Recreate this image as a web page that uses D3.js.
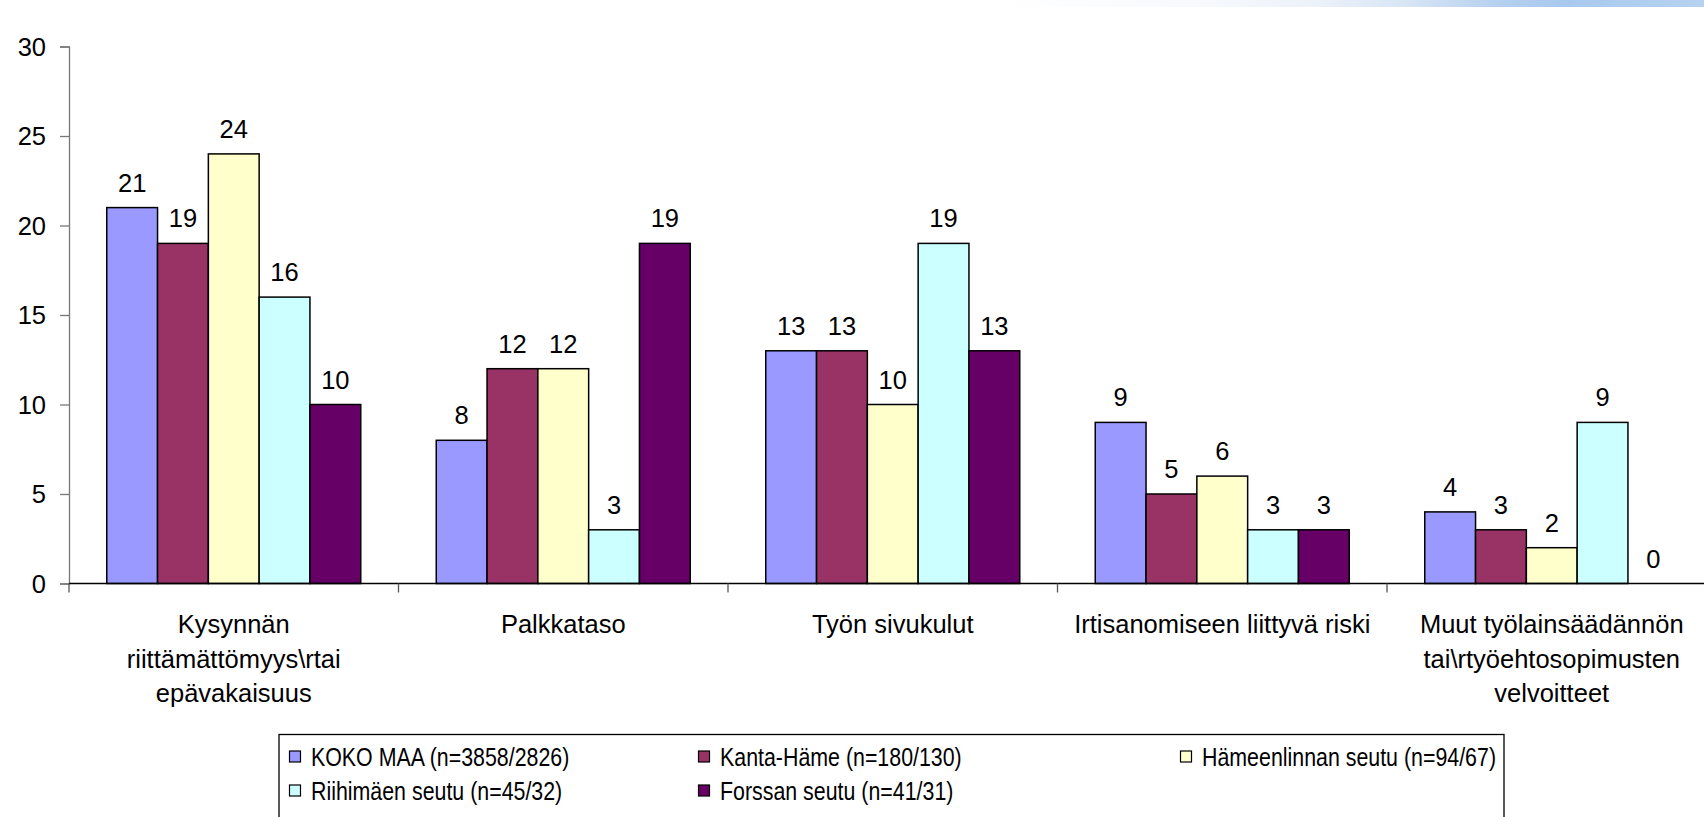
<!DOCTYPE html>
<html>
<head>
<meta charset="utf-8">
<script src="https://cdn.jsdelivr.net/npm/d3@7"></script>
<style>
  body { margin: 0; background: #fff; overflow: hidden; }
  text { font-family: Arial, "Liberation Sans", sans-serif; fill: #000; }
</style>
</head>
<body>
<div id="chart"></div>
<script>
// data
var categories = ["Kysynnän riittämättömyys\\rtai epävakaisuus", "Palkkataso", "Työn sivukulut",
                  "Irtisanomiseen liittyvä riski", "Muut työlainsäädännön tai\\rtyöehtosopimusten velvoitteet"];
var categoryLines = [
  ["Kysynnän", "riittämättömyys\\rtai", "epävakaisuus"],
  ["Palkkataso"],
  ["Työn sivukulut"],
  ["Irtisanomiseen liittyvä riski"],
  ["Muut työlainsäädännön", "tai\\rtyöehtosopimusten", "velvoitteet"]
];
var seriesNames = ["KOKO MAA (n=3858/2826)", "Kanta-Häme (n=180/130)", "Hämeenlinnan seutu (n=94/67)",
                   "Riihimäen seutu (n=45/32)", "Forssan seutu (n=41/31)"];
var kokoMaa     = [21, 8, 13, 9, 4];
var kantaHame   = [19, 12, 13, 5, 3];
var hameenlinna = [24, 12, 10, 6, 2];
var riihimaki   = [16, 3, 19, 3, 9];
var forssa      = [10, 19, 13, 3, 0];
var seriesValues = [kokoMaa, kantaHame, hameenlinna, riihimaki, forssa];
var yTicks = [0, 5, 10, 15, 20, 25, 30];
var colors = ["#9999ff", "#993366", "#ffffcc", "#ccffff", "#660066"];

var width = 1704;
var height = 817;
var left = 69;
var band = 329.5;

var svg = d3.select("#chart").append("svg")
  .attr("width", width).attr("height", height);

// faint blue strip at the top right
var grad = svg.append("defs").append("linearGradient").attr("id", "topgrad");
[[0, "#ffffff"], [0.28, "#f7f9fd"], [0.43, "#eef3f9"], [0.57, "#d9e6f6"],
 [0.71, "#b6d0ef"], [0.8, "#a8c9ee"], [1, "#b6d2f0"]].forEach(function(s){
  grad.append("stop").attr("offset", s[0]).attr("stop-color", s[1]);
});
svg.append("rect").attr("x", 1000).attr("y", 0).attr("width", 704).attr("height", 7)
  .attr("fill", "url(#topgrad)");

var y = d3.scaleLinear().domain([0, 30]).range([583.5, 46.5]);
var x0 = d3.scaleBand().domain(categories).range([left, left + band * categories.length]);
var x1 = d3.scaleBand().domain(d3.range(seriesNames.length)).range([37.75, band - 37.75]);

// y axis
var yAxis = svg.append("g")
  .attr("transform", "translate(" + left + ",0)")
  .call(d3.axisLeft(y).tickValues(yTicks).tickSize(9).tickPadding(14));
yAxis.select(".domain").attr("stroke", "#777").attr("stroke-width", 1.3);
yAxis.selectAll(".tick line").attr("stroke", "#777").attr("stroke-width", 1.3);
yAxis.selectAll("text").attr("font-size", 25.5).attr("font-family", "Arial, 'Liberation Sans', sans-serif")
  .attr("fill", "#000").attr("dy", "0.34em");

// bars
var groups = svg.selectAll("g.group")
  .data(categories)
  .enter().append("g")
    .attr("class", "group")
    .attr("transform", function(d){ return "translate(" + x0(d) + ",0)"; });

groups.selectAll("rect")
  .data(function(d, i){ return seriesValues.map(function(v, s){ return {s: s, v: v[i]}; }); })
  .enter().append("rect")
    .attr("x", function(d){ return x1(d.s); })
    .attr("width", x1.bandwidth())
    .attr("y", function(d){ return y(d.v); })
    .attr("height", function(d){ return y(0) - y(d.v); })
    .attr("fill", function(d){ return colors[d.s]; })
    .attr("stroke", "#000")
    .attr("stroke-width", function(d){ return d.v > 0 ? 1.5 : 0; });

groups.selectAll("text.val")
  .data(function(d, i){ return seriesValues.map(function(v, s){ return {s: s, v: v[i]}; }); })
  .enter().append("text")
    .attr("class", "val")
    .attr("x", function(d){ return x1(d.s) + x1.bandwidth() / 2; })
    .attr("y", function(d){ return y(d.v) - 16; })
    .attr("text-anchor", "middle")
    .attr("font-size", 25.5)
    .text(function(d){ return d.v; });

// x axis line and ticks at the category borders
svg.append("line")
  .attr("x1", left).attr("x2", width).attr("y1", y(0)).attr("y2", y(0))
  .attr("stroke", "#000").attr("stroke-width", 1.3);
svg.selectAll("line.xtick")
  .data(categories)
  .enter().append("line")
    .attr("class", "xtick")
    .attr("x1", function(d){ return x0(d); }).attr("x2", function(d){ return x0(d); })
    .attr("y1", y(0)).attr("y2", y(0) + 9)
    .attr("stroke", "#555").attr("stroke-width", 1.3);

// category labels
var cat = svg.selectAll("text.cat")
  .data(categories)
  .enter().append("text")
    .attr("class", "cat")
    .attr("text-anchor", "middle")
    .attr("font-size", 25.5);
cat.selectAll("tspan")
  .data(function(d, i){ return categoryLines[i].map(function(t){ return {t: t, c: d}; }); })
  .enter().append("tspan")
    .attr("x", function(d){ return x0(d.c) + band / 2; })
    .attr("y", function(d, j){ return 633 + j * 34.5; })
    .text(function(d){ return d.t; });

// legend (text is a bit squeezed sideways, like the original)
var legend = svg.append("g");
legend.append("rect")
  .attr("x", 279).attr("y", 734.5).attr("width", 1225).attr("height", 100)
  .attr("fill", "#fff").attr("stroke", "#000").attr("stroke-width", 1.3);
var legendX = [289, 698, 1180, 289, 698];
var legendY = [766, 766, 766, 800, 800];
var squeeze = 0.855;
var item = legend.selectAll("g.item")
  .data(seriesNames)
  .enter().append("g")
    .attr("class", "item")
    .attr("transform", function(d, i){ return "translate(" + legendX[i] + "," + legendY[i] + ")"; });
item.append("rect")
  .attr("x", 0.5).attr("y", -15).attr("width", 11).attr("height", 11)
  .attr("fill", function(d, i){ return colors[i]; })
  .attr("stroke", "#000").attr("stroke-width", 1.2);
item.append("text")
  .attr("transform", "translate(22,0) scale(" + squeeze + ",1)")
  .attr("font-size", 25)
  .text(function(d){ return d; });
</script>
</body>
</html>
